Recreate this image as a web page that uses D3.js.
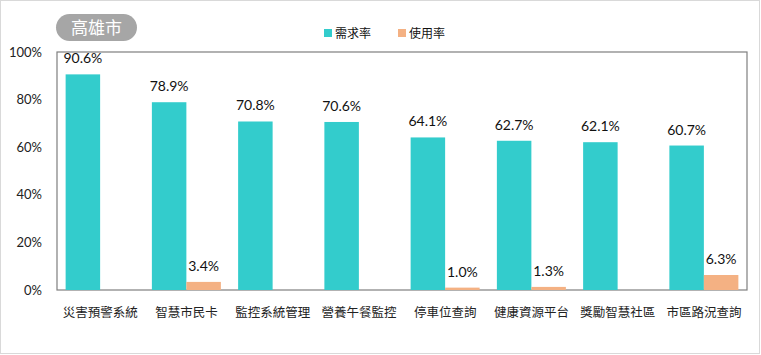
<!DOCTYPE html>
<html>
<head>
<meta charset="utf-8">
<script src="https://cdn.jsdelivr.net/npm/d3@7"></script>
<style>
  body { margin: 0; background: #fff; }
  text { font-family: Lato, "Noto Sans CJK TC", sans-serif; }
</style>
</head>
<body>
<svg width="761" height="355"></svg>
<script>
// data
const categories = ["災害預警系統", "智慧市民卡", "監控系統管理", "營養午餐監控", "停車位查詢", "健康資源平台", "獎勵智慧社區", "市區路況查詢"];
const demand = [90.6, 78.9, 70.8, 70.6, 64.1, 62.7, 62.1, 60.7];
const usage = [null, 3.4, null, null, 1.0, 1.3, null, 6.3];
const yTicks = [0, 20, 40, 60, 80, 100];
const seriesNames = ["需求率", "使用率"];
const colors = ["#33cccc", "#f4b183"];

let svg = d3.select("svg");

// outer frame
svg.append("rect")
    .attr("x", 0.5).attr("y", 0.5)
    .attr("width", 759).attr("height", 353)
    .attr("fill", "#fff").attr("stroke", "#d9d9d9");

const plot = { left: 57, right: 747, top: 52, bottom: 290 };

let xScale = d3.scaleBand()
    .domain(categories)
    .range([plot.left, plot.right]);

let yScale = d3.scaleLinear()
    .domain([0, 100])
    .range([plot.bottom, plot.top]);

const band = xScale.bandwidth();
const barW = band * 0.4;
const pad = band * 0.1;

// plot box
svg.append("rect")
    .attr("x", plot.left).attr("y", plot.top)
    .attr("width", plot.right - plot.left).attr("height", plot.bottom - plot.top)
    .attr("fill", "none").attr("stroke", "#7f7f7f").attr("stroke-width", 1.2);

// y axis labels
let yAxis = svg.append("g")
    .attr("transform", "translate(" + plot.left + ",0)")
    .call(d3.axisLeft(yScale).tickValues(yTicks).tickSize(0).tickPadding(15).tickFormat(d => d + "%"));
yAxis.select(".domain").remove();
yAxis.selectAll("text").attr("font-size", 13).attr("fill", "#222")
    .style("font-family", "Lato, 'Noto Sans CJK TC', sans-serif");

// x axis labels
let xAxis = svg.append("g")
    .attr("transform", "translate(0," + plot.bottom + ")")
    .call(d3.axisBottom(xScale).tickSize(0).tickPadding(18));
xAxis.select(".domain").remove();
xAxis.selectAll("text").attr("font-size", 12.5).attr("fill", "#222")
    .style("font-family", "'Noto Sans CJK TC', sans-serif");

// demand bars
svg.selectAll(".bar-d")
    .data(demand)
    .enter().append("rect")
    .attr("class", "bar-d")
    .attr("x", (d, i) => xScale(categories[i]) + pad)
    .attr("y", d => yScale(d))
    .attr("width", barW)
    .attr("height", d => plot.bottom - yScale(d))
    .attr("fill", colors[0]);

svg.selectAll(".lab-d")
    .data(demand)
    .enter().append("text")
    .attr("x", (d, i) => xScale(categories[i]) + pad + barW / 2)
    .attr("y", d => yScale(d) - 11)
    .attr("text-anchor", "middle")
    .attr("font-size", 14)
    .attr("fill", "#111")
    .text(d => d.toFixed(1) + "%");

// usage bars
const usageData = usage.map((v, i) => ({ v: v, c: categories[i] })).filter(d => d.v != null);

svg.selectAll(".bar-u")
    .data(usageData)
    .enter().append("rect")
    .attr("class", "bar-u")
    .attr("x", d => xScale(d.c) + pad + barW)
    .attr("y", d => yScale(d.v))
    .attr("width", barW)
    .attr("height", d => plot.bottom - yScale(d.v))
    .attr("fill", colors[1]);

svg.selectAll(".lab-u")
    .data(usageData)
    .enter().append("text")
    .attr("x", d => xScale(d.c) + pad + barW * 1.5)
    .attr("y", d => yScale(d.v) - 11)
    .attr("text-anchor", "middle")
    .attr("font-size", 14)
    .attr("fill", "#111")
    .text(d => d.v.toFixed(1) + "%");

// title badge
svg.append("rect")
    .attr("x", 56).attr("y", 14)
    .attr("width", 81).attr("height", 27)
    .attr("rx", 13.5)
    .attr("fill", "#a6a6a6");
svg.append("text")
    .attr("x", 96.5).attr("y", 33.5)
    .attr("text-anchor", "middle")
    .attr("font-size", 17)
    .attr("fill", "#fff")
    .style("font-family", "'Noto Sans CJK TC', sans-serif")
    .text("高雄市");

// legend
const legendX = [324, 398];
seriesNames.forEach((name, i) => {
    svg.append("rect")
        .attr("x", legendX[i]).attr("y", 29)
        .attr("width", 8).attr("height", 8)
        .attr("fill", colors[i]);
    svg.append("text")
        .attr("x", legendX[i] + 11).attr("y", 37.5)
        .attr("font-size", 12)
        .attr("fill", "#111")
        .style("font-family", "'Noto Sans CJK TC', sans-serif")
        .text(name);
});
</script>
</body>
</html>
